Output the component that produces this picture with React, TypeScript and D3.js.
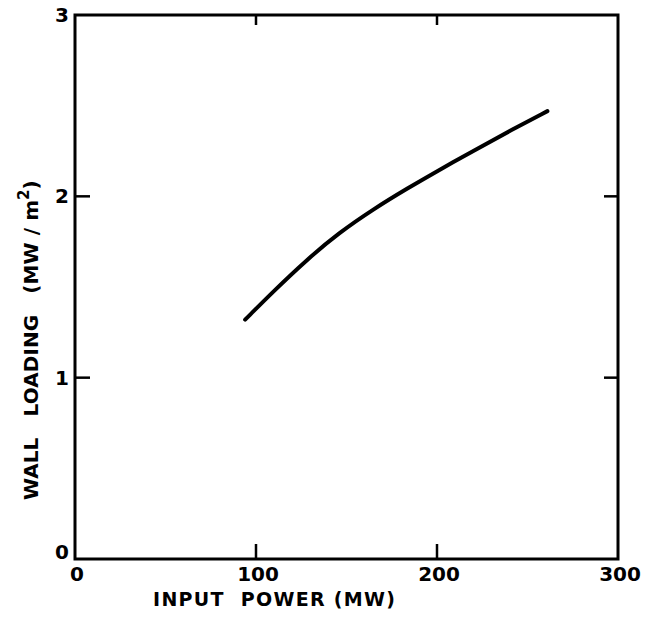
import React, { useEffect, useRef } from "react";
import * as d3 from "d3";

// values
const powerMW = [94, 110, 128, 146, 165, 183, 202, 220, 240, 261];
const wallLoading = [1.32, 1.48, 1.65, 1.8, 1.93, 2.04, 2.15, 2.25, 2.36, 2.47];
const xTicks = [0, 100, 200, 300];
const yTicks = [0, 1, 2, 3];

const W = 656;
const H = 618;
const margin = { left: 75, right: 38, top: 15, bottom: 59 };

export default function App() {
  const ref = useRef<SVGSVGElement>(null);

  useEffect(() => {
    const svg = d3.select(ref.current);
    svg.selectAll("*").remove();

    const x = d3.scaleLinear().domain([0, 300]).range([margin.left, W - margin.right]);
    const y = d3.scaleLinear().domain([0, 3]).range([H - margin.bottom, margin.top]);
    const font = "'DejaVu Sans', sans-serif";

    // frame
    svg.append("rect")
      .attr("x", x(0)).attr("y", y(3))
      .attr("width", x(300) - x(0)).attr("height", y(0) - y(3))
      .attr("fill", "none").attr("stroke", "#000").attr("stroke-width", 3);

    // inward ticks (only the inner ones)
    const inner = (arr: number[]) => arr.slice(1, -1);
    inner(xTicks).forEach(t => {
      svg.append("line").attr("x1", x(t)).attr("x2", x(t))
        .attr("y1", y(0)).attr("y2", y(0) - 15).attr("stroke", "#000").attr("stroke-width", 2.5);
      svg.append("line").attr("x1", x(t)).attr("x2", x(t))
        .attr("y1", y(3)).attr("y2", y(3) + 10).attr("stroke", "#000").attr("stroke-width", 2.5);
    });
    inner(yTicks).forEach(t => {
      svg.append("line").attr("x1", x(0)).attr("x2", x(0) + 15)
        .attr("y1", y(t)).attr("y2", y(t)).attr("stroke", "#000").attr("stroke-width", 2.5);
      svg.append("line").attr("x1", x(300)).attr("x2", x(300) - 14)
        .attr("y1", y(t)).attr("y2", y(t)).attr("stroke", "#000").attr("stroke-width", 2.5);
    });

    // tick labels
    svg.append("g").selectAll("text").data(xTicks).join("text")
      .attr("x", d => x(d) + 2).attr("y", y(0) + 22)
      .attr("text-anchor", "middle")
      .attr("font-family", font).attr("font-weight", "bold").attr("font-size", 20)
      .text(d => d);
    svg.append("g").selectAll("text").data(yTicks).join("text")
      .attr("x", x(0) - 6).attr("y", d => y(d) + (d === 0 ? 0 : 7))
      .attr("text-anchor", "end")
      .attr("font-family", font).attr("font-weight", "bold").attr("font-size", 20)
      .text(d => d);

    // curve
    const line = d3.line<number>()
      .x((d, i) => x(powerMW[i]))
      .y(d => y(d))
      .curve(d3.curveBasis);
    svg.append("path").datum(wallLoading)
      .attr("d", line)
      .attr("fill", "none").attr("stroke", "#000")
      .attr("stroke-width", 4).attr("stroke-linecap", "round");

    // axis titles
    svg.append("text")
      .attr("x", 153).attr("y", 606)
      .attr("font-family", font).attr("font-weight", "bold").attr("font-size", 19)
      .attr("textLength", 242).attr("lengthAdjust", "spacing")
      .attr("xml:space", "preserve")
      .text("INPUT  POWER (MW)");

    const yt = svg.append("text")
      .attr("transform", "translate(38,500) rotate(-90)")
      .attr("font-family", font).attr("font-weight", "bold").attr("font-size", 20)
      .attr("xml:space", "preserve");
    yt.append("tspan").attr("textLength", 300).attr("lengthAdjust", "spacing")
      .text("WALL   LOADING   (MW / m");
    yt.append("tspan").attr("dy", -9).attr("font-size", 15).text("2");
    yt.append("tspan").attr("dy", 9).text(")");
  }, []);

  return (
    <svg ref={ref} width={W} height={H}
      style={{ display: "block", position: "absolute", left: 0, top: 0, background: "#fff" }} />
  );
}
